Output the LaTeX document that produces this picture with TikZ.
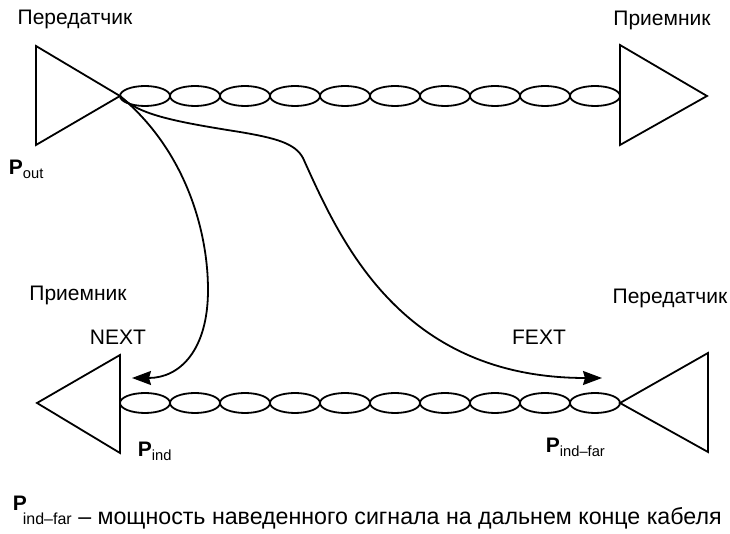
\documentclass[tikz,border=0pt]{standalone}
\usepackage{fontspec}
\setmainfont{Liberation Sans}
\usetikzlibrary{positioning,calc,arrows.meta}

\begin{document}
\begin{tikzpicture}[
x=0.5pt,y=-0.5pt,
line width=0.9pt,
mylink/.style={
  draw,
  x radius=12.5pt,
  y radius=5pt},
mytext/.style={
  inner sep=0pt,
  font=\fontsize{10.5}{12}\selectfont},
myarrow/.style={
  -{Stealth[length=9.5pt,width=7pt,inset=1pt]}}
]
\useasboundingbox (0,0) rectangle (730,534);
% upper pair
\draw
  (36,46) coordinate (TA1) --
  (120,96) coordinate (TA) --
  (36,145) coordinate (TA2) -- cycle;
\draw
  (620,45) coordinate (RA1) --
  (707,96) coordinate (RA3) --
  (620,145) coordinate (RA2) -- cycle;
\coordinate (RA) at (620,96);
% lower pair
\draw
  (120,355) coordinate (RB1) --
  (37,403) coordinate (RB3) --
  (120,453) coordinate (RB2) -- cycle;
\coordinate (RB) at (120,403);
\draw
  (708,353) coordinate (TB1) --
  (620,403) coordinate (TB) --
  (708,452) coordinate (TB2) -- cycle;
% twisted pairs
\foreach \Nodo in {0,...,9}
  {\path[mylink] ($ (TA)!{(\Nodo+0.5)/10}!(RA) $) ellipse [];
   \path[mylink] ($ (RB)!{(\Nodo+0.5)/10}!(TB) $) ellipse [];}
% crosstalk
\coordinate (NEXTend) at (132,378);
\coordinate (FEXTend) at (602,378);
\draw[myarrow] (TA) .. controls (185,150) and (208,230) .. (208,290)
  .. controls (208,350) and (180,378) .. (NEXTend);
\draw[myarrow] (TA) .. controls (138,114) and (170,121) .. (240,132)
  .. controls (275,138) and (295,143) .. (303,158)
  .. controls (340,240) and (400,378) .. (FEXTend);
% labels
\node[mytext] (lblTA) at (75,19) {Передатчик};
\node[mytext] (lblRA) at (662,20) {Приемник};
\node[mytext] (lblRB) at (78,295) {Приемник};
\node[mytext] (lblTB) at (670,298) {Передатчик};
\node[mytext] (lblNEXT) at (118,337) {NEXT};
\node[mytext] (lblFEXT) at (539,337) {FEXT};
\node[mytext,anchor=base west] (Pout) at (8,175)
  {\textbf{P}\textsubscript{out}};
\node[mytext,anchor=base west] (Pind) at (137,457)
  {\textbf{P}\textsubscript{ind}};
\node[mytext,anchor=base west] (Pfar) at (545,453)
  {\textbf{P}\textsubscript{ind--far}};
\node[mytext,anchor=base west] (Pnote) at (12,511) {\textbf{P}};
\node[mytext,anchor=base west,font=\fontsize{11.6}{13}\selectfont] (note) at (22,525)
  {{\fontsize{8}{9}\selectfont ind--far} -- мощность наведенного сигнала на дальнем конце кабеля};
\end{tikzpicture}
\end{document}
